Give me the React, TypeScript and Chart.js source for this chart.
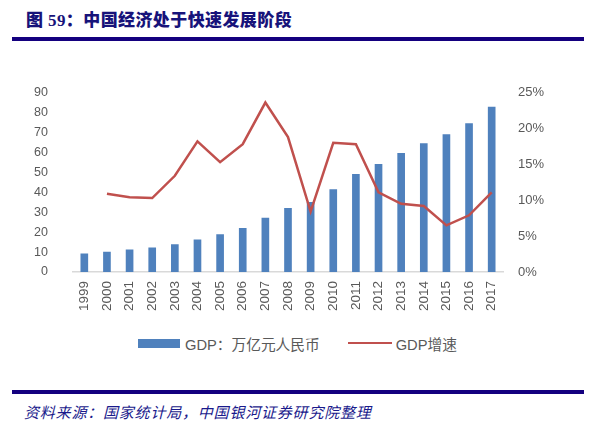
import React, { useEffect, useRef } from 'react';
import { Chart, registerables } from 'chart.js';

Chart.register(...registerables);

const years = ['1999', '2000', '2001', '2002', '2003', '2004', '2005', '2006', '2007', '2008', '2009', '2010', '2011', '2012', '2013', '2014', '2015', '2016', '2017'];
const gdpValues = [9.06, 10.03, 11.09, 12.17, 13.74, 16.18, 18.73, 21.94, 27.02, 31.95, 34.91, 41.3, 48.93, 54.04, 59.52, 64.4, 68.91, 74.36, 82.71];
const growthValues: (number | null)[] = [null, 10.9, 10.4, 10.3, 13.4, 18.2, 15.3, 17.8, 23.6, 18.8, 8.4, 18.0, 17.8, 11.1, 9.5, 9.2, 6.5, 7.9, 11.1];
const leftTicks = [0, 10, 20, 30, 40, 50, 60, 70, 80, 90];
const rightTicks = [0, 5, 10, 15, 20, 25];

const barLabel = 'GDP：万亿元人民币';
const lineLabel = 'GDP增速';
const titleText = '图 59：中国经济处于快速发展阶段';
const sourceText = '资料来源：国家统计局，中国银河证券研究院整理';

const BAR_COLOR = '#4F81BD';
const LINE_COLOR = '#C0504D';
const TICK_COLOR = '#595959';
const NAVY = '#14007F';
const FONT = "'Liberation Sans', 'Noto Sans CJK SC', sans-serif";

export default function App() {
  const canvasRef = useRef<HTMLCanvasElement | null>(null);

  useEffect(() => {
    const prevMargin = document.body.style.margin;
    document.body.style.margin = '0';
    if (!canvasRef.current) return;
    const chart = new Chart(canvasRef.current, {
      data: {
        labels: years,
        datasets: [
          {
            type: 'line',
            label: lineLabel,
            data: growthValues,
            borderColor: LINE_COLOR,
            backgroundColor: LINE_COLOR,
            borderWidth: 2.5,
            pointRadius: 0,
            tension: 0,
            yAxisID: 'y1',
            order: 0,
          },
          {
            type: 'bar',
            label: barLabel,
            data: gdpValues,
            backgroundColor: BAR_COLOR,
            barThickness: 7,
            yAxisID: 'y',
            order: 1,
          },
        ],
      } as any,
      options: {
        animation: false,
        responsive: true,
        maintainAspectRatio: false,
        layout: { padding: { top: 22, left: 0, right: 0, bottom: 0 } },
        plugins: {
          legend: { display: false },
          tooltip: { enabled: false },
        },
        scales: {
          x: {
            grid: { display: false, drawTicks: false },
            border: { display: true, color: '#D9D9D9', width: 1.5 },
            ticks: {
              color: TICK_COLOR,
              font: { family: FONT, size: 13.5 },
              minRotation: 90,
              maxRotation: 90,
              autoSkip: false,
              padding: 9,
            },
            afterFit: (s: any) => {
              s.height = 58;
            },
          },
          y: {
            position: 'left',
            min: 0,
            max: 90,
            afterBuildTicks: (s: any) => {
              s.ticks = leftTicks.map((v) => ({ value: v }));
            },
            grid: { display: false, drawTicks: false },
            border: { display: false },
            ticks: {
              color: TICK_COLOR,
              font: { family: FONT, size: 12.5 },
              padding: 25,
            },
            afterFit: (s: any) => {
              s.width = 73;
            },
          },
          y1: {
            position: 'right',
            min: 0,
            max: 25,
            afterBuildTicks: (s: any) => {
              s.ticks = rightTicks.map((v) => ({ value: v }));
            },
            grid: { display: false, drawTicks: false },
            border: { display: false },
            ticks: {
              color: TICK_COLOR,
              font: { family: FONT, size: 13 },
              padding: 15,
              callback: (v: any) => `${v}%`,
            },
            afterFit: (s: any) => {
              s.width = 88;
            },
          },
        },
      } as any,
    });
    return () => {
      chart.destroy();
      document.body.style.margin = prevMargin;
    };
  }, []);

  return (
    <div
      style={{
        position: 'absolute',
        left: 0,
        top: 0,
        width: 591,
        height: 428,
        background: '#fff',
        overflow: 'hidden',
      }}
    >
      <div
        style={{
          position: 'absolute',
          left: 26,
          top: 11,
          fontFamily: "'Liberation Serif', 'Noto Sans CJK SC', serif",
          fontWeight: 900,
          fontSize: 17,
          lineHeight: '19px',
          color: '#17137A',
          whiteSpace: 'nowrap',
          letterSpacing: 0.4,
        }}
      >
        {titleText}
      </div>
      <div style={{ position: 'absolute', left: 12, top: 37, width: 572, height: 4, background: NAVY }} />

      <div style={{ position: 'absolute', left: 0, top: 60, width: 591, height: 270 }}>
        <canvas ref={canvasRef} />
      </div>

      <div
        style={{
          position: 'absolute',
          left: 138,
          top: 334,
          height: 18,
          display: 'flex',
          alignItems: 'center',
          fontFamily: FONT,
          fontSize: 14.7,
          color: TICK_COLOR,
          whiteSpace: 'nowrap',
        }}
      >
        <span style={{ display: 'inline-block', width: 42, height: 9, background: BAR_COLOR, marginRight: 5 }} />
        <span>{barLabel}</span>
        <span style={{ display: 'inline-block', width: 44, height: 2.5, background: LINE_COLOR, marginLeft: 28, marginRight: 4 }} />
        <span>{lineLabel}</span>
      </div>

      <div style={{ position: 'absolute', left: 12, top: 390, width: 572, height: 4, background: NAVY }} />
      <div
        style={{
          position: 'absolute',
          left: 24,
          top: 403,
          fontFamily: "'Noto Sans CJK SC', sans-serif",
          fontStyle: 'italic',
          fontSize: 15,
          lineHeight: '18px',
          color: '#1A1A8C',
          whiteSpace: 'nowrap',
          letterSpacing: 0.8,
        }}
      >
        {sourceText}
      </div>
    </div>
  );
}
